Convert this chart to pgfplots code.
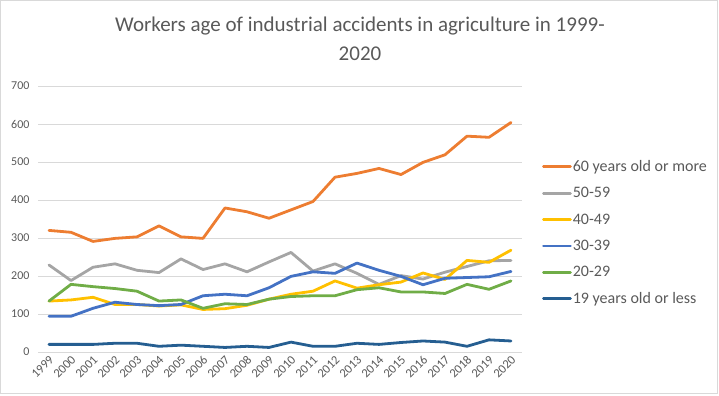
\documentclass[border=0pt]{standalone}
\usepackage{pgfplots}
\pgfplotsset{compat=1.18}
\usepackage{fontspec}
\setmainfont{Carlito}
\definecolor{cOrange}{HTML}{ED7D31}
\definecolor{cGray}{HTML}{A5A5A5}
\definecolor{cYellow}{HTML}{FFC000}
\definecolor{cBlue}{HTML}{4472C4}
\definecolor{cGreen}{HTML}{70AD47}
\definecolor{cDark}{HTML}{255E91}
\definecolor{txt}{HTML}{595959}
\definecolor{gridc}{HTML}{D9D9D9}
\begin{document}
\begin{tikzpicture}
\useasboundingbox (0,0) rectangle (719bp,396bp);
\draw[gridc, line width=0.75bp] (0.5bp,2.5bp) rectangle (717.5bp,395.5bp);
\node[txt, font=\fontsize{21bp}{29bp}\selectfont, align=center, anchor=north] at (360bp,383bp)
  {Workers age of industrial accidents in agriculture in 1999-\\2020};
\begin{axis}[
  at={(38bp,44bp)}, anchor=south west,
  scale only axis, width=484bp, height=266bp,
  xmin=1998.5, xmax=2020.5, ymin=0, ymax=700,
  xtick={1999,...,2020}, ytick={0,100,...,700},
  /pgf/number format/assume math mode=true,
  /pgf/number format/1000 sep={},
  axis line style={draw=none},
  major tick length=0pt,
  ymajorgrids, grid style={gridc, line width=0.75bp},
  tick label style={txt, font=\fontsize{12bp}{14bp}\selectfont},
  xticklabel style={rotate=45, anchor=east, xshift=1bp, yshift=-6bp, font=\fontsize{12.5bp}{14bp}\selectfont},
  yticklabel style={xshift=-5bp},
  legend style={at={(1.041,0.448)}, anchor=west, draw=none, fill=none,
    inner sep=0pt, row sep=12.4bp,
    font=\fontsize{16bp}{19bp}\selectfont, text=txt,
    nodes={inner sep=1bp, anchor=west}},
  legend cell align=left,
  legend image code/.code={\draw[#1] (0bp,0bp) -- (27bp,0bp);},
  every axis plot/.append style={line width=2.8bp, line join=round, line cap=round},
]
\addplot[cOrange] coordinates {(1999,320)(2000,315)(2001,291)(2002,299)(2003,303)(2004,332)(2005,303)(2006,299)(2007,379)(2008,369)(2009,352)(2010,374)(2011,396)(2012,460)(2013,470)(2014,483)(2015,467)(2016,499)(2017,519)(2018,568)(2019,565)(2020,604)};
\addlegendentry{60 years old or more}
\addplot[cGray] coordinates {(1999,229)(2000,188)(2001,223)(2002,232)(2003,215)(2004,209)(2005,245)(2006,217)(2007,232)(2008,211)(2009,237)(2010,262)(2011,213)(2012,232)(2013,207)(2014,178)(2015,201)(2016,192)(2017,210)(2018,225)(2019,240)(2020,241)};
\addlegendentry{50-59}
\addplot[cYellow] coordinates {(1999,134)(2000,137)(2001,144)(2002,125)(2003,125)(2004,121)(2005,124)(2006,112)(2007,114)(2008,123)(2009,139)(2010,152)(2011,160)(2012,187)(2013,168)(2014,177)(2015,184)(2016,208)(2017,191)(2018,241)(2019,236)(2020,268)};
\addlegendentry{40-49}
\addplot[cBlue] coordinates {(1999,94)(2000,94)(2001,115)(2002,131)(2003,125)(2004,122)(2005,125)(2006,148)(2007,152)(2008,148)(2009,169)(2010,199)(2011,211)(2012,207)(2013,234)(2014,215)(2015,199)(2016,177)(2017,194)(2018,196)(2019,198)(2020,212)};
\addlegendentry{30-39}
\addplot[cGreen] coordinates {(1999,134)(2000,178)(2001,172)(2002,167)(2003,160)(2004,134)(2005,137)(2006,115)(2007,127)(2008,125)(2009,139)(2010,146)(2011,148)(2012,148)(2013,164)(2014,169)(2015,158)(2016,158)(2017,154)(2018,178)(2019,165)(2020,187)};
\addlegendentry{20-29}
\addplot[cDark] coordinates {(1999,20)(2000,20)(2001,20)(2002,23)(2003,23)(2004,15)(2005,18)(2006,15)(2007,12)(2008,15)(2009,12)(2010,26)(2011,15)(2012,15)(2013,23)(2014,20)(2015,25)(2016,29)(2017,26)(2018,15)(2019,32)(2020,29)};
\addlegendentry{19 years old or less}
\end{axis}
\end{tikzpicture}
\end{document}
